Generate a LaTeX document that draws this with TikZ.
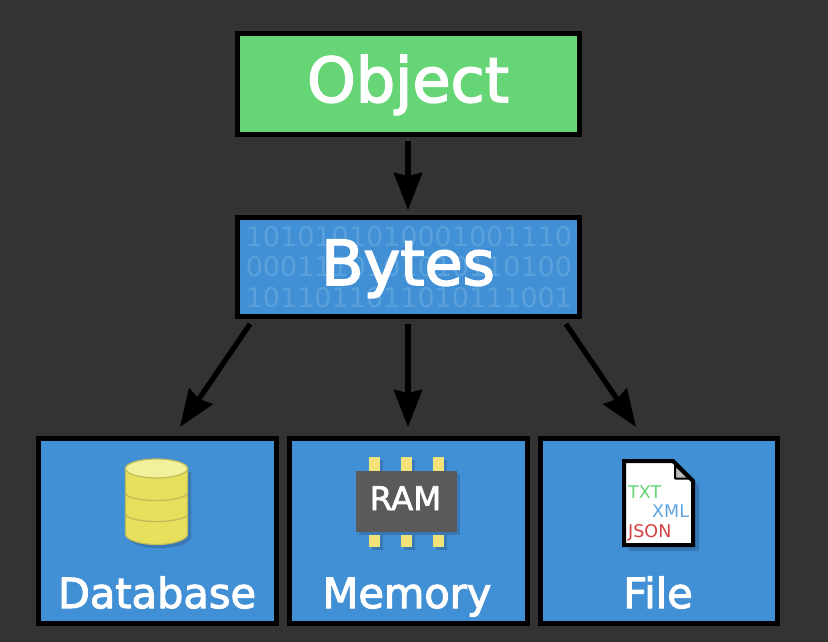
\documentclass[tikz,border=0pt]{standalone}
\usepackage{fontspec}
\setmainfont{DejaVu Sans}
\usetikzlibrary{arrows.meta,calc}
\definecolor{bgc}{HTML}{333333}
\definecolor{greenc}{HTML}{66D575}
\definecolor{bluec}{HTML}{418FD5}
\definecolor{digitc}{HTML}{5AA1DC}
\definecolor{shadowc}{HTML}{3878B4}
\definecolor{dbbody}{HTML}{E6E05C}
\definecolor{dbtop}{HTML}{F2F09B}
\definecolor{dbline}{HTML}{C0BC5C}
\definecolor{chipc}{HTML}{5A5A5A}
\definecolor{pinc}{HTML}{F2E27A}
\definecolor{foldc}{HTML}{BBBBBB}
\definecolor{txtc}{HTML}{66D575}
\definecolor{xmlc}{HTML}{5DA5E0}
\definecolor{jsonc}{HTML}{D64040}
\newcommand\rimtext[3]{\special{pdf:code #1 RG #2 w 2 Tr}#3\special{pdf:code 0 Tr 1 w}}
\tikzset{
  box/.style={draw=black,line width=5pt,outer sep=0pt,inner sep=0pt,rectangle},
  big/.style={anchor=base,inner sep=0pt,text=white,font=\fontsize{62}{62}\selectfont},
  mid/.style={anchor=base,inner sep=0pt,text=white,font=\fontsize{41.5}{42}\selectfont},
  bits/.style={inner sep=0pt,text=digitc,font=\fontsize{27}{27}\selectfont},
  tag/.style={anchor=west,inner sep=0pt,font=\fontsize{17.5}{18}\selectfont},
  link/.style={draw=black,line width=5.2pt,-{Stealth[length=37pt,width=28pt,inset=3pt]}},
}
\begin{document}
\begin{tikzpicture}[x=1pt,y=-1pt]
\useasboundingbox (0,0) rectangle (828,642);
\fill[bgc] (0,0) rectangle (828,642);
% boxes
\node[box,fill=greenc,minimum width=342pt,minimum height=100pt] (obj) at (408,84) {};
\node[box,fill=bluec,minimum width=342pt,minimum height=99pt] (bytes) at (408,266.5) {};
\node[box,fill=bluec,minimum width=238pt,minimum height=185pt] (db) at (157,530.5) {};
\node[box,fill=bluec,minimum width=238pt,minimum height=185pt] (mem) at (408,530.5) {};
\node[box,fill=bluec,minimum width=237pt,minimum height=185pt] (file) at (658.5,530.5) {};
% binary background
\node[bits] (b1) at (409,237) {1010101010001001110};
\node[bits] (b2) at (409,267) {0001110101010110100};
\node[bits] (b3) at (409,298) {1011011011010111001};
% labels
\node[big] (objl) at (408,102) {\rimtext{1 1 1}{1.6}{Object}};
\node[big] (bytesl) at (408,285) {\rimtext{1 1 1}{1.6}{Bytes}};
\node[mid] (dbl) at (157,608) {\rimtext{1 1 1}{1.1}{Database}};
\node[mid] (meml) at (407,608) {\rimtext{1 1 1}{1.1}{Memory}};
\node[mid] (filel) at (658,608) {\rimtext{1 1 1}{1.1}{File}};
% connectors
\draw[link,shorten <=7pt,shorten >=7pt] (obj.south) -- (bytes.north);
\draw[link,shorten <=8pt,shorten >=11pt] (bytes.south) -- (mem.north);
\draw[link,shorten <=9.7pt,shorten >=13.3pt] ($(bytes.south west)+(18.5,0)$) -- ($(db.north)+(15.4,0)$);
\draw[link,shorten <=9.7pt,shorten >=13.3pt] ($(bytes.south east)+(-18.5,0)$) -- ($(file.north)+(-15,0)$);
% database icon
\fill[shadowc] (128,472) -- (191,472) -- (191,537) arc[start angle=0,end angle=180,x radius=31.5,y radius=11] -- cycle;
\filldraw[fill=dbbody,draw=dbline,line width=1.2pt] (125.5,468) -- (125.5,534) arc[start angle=180,end angle=0,x radius=31,y radius=10.5] -- (187.5,468) -- cycle;
\draw[dbline,line width=1.3pt] (125.5,493) arc[start angle=180,end angle=0,x radius=31,y radius=7.5];
\draw[dbline,line width=1.3pt] (125.5,514) arc[start angle=180,end angle=0,x radius=31,y radius=7.5];
\filldraw[fill=dbtop,draw=dbline,line width=1.2pt] (156.5,468.5) ellipse[x radius=31,y radius=9.5];
% ram icon
\foreach \px in {369,401,433}{
  \fill[shadowc] (\px+3,460) rectangle (\px+14,474);
  \fill[shadowc] (\px+3,535) rectangle (\px+14,550);
  \fill[pinc] (\px,457) rectangle (\px+11,471);
  \fill[pinc] (\px,532) rectangle (\px+11,547);
}
\fill[shadowc] (359,474) rectangle (460,535);
\node[fill=chipc,minimum width=101pt,minimum height=61pt,inner sep=0pt,outer sep=0pt] (chip) at (406.5,501.5) {};
\node[anchor=base,inner sep=0pt,text=white,font=\fontsize{32.5}{33}\selectfont] (raml) at (405.5,510) {\rimtext{1 1 1}{0.7}{RAM}};
% file icon
\fill[shadowc] (629,466) -- (680,466) -- (699,486) -- (699,551) -- (629,551) -- cycle;
\filldraw[fill=white,draw=black,line width=4pt,line join=miter] (624,461) -- (673,461) -- (693,481) -- (693,545) -- (624,545) -- cycle;
\filldraw[fill=foldc,draw=black,line width=2pt,line join=round] (675,465) -- (675,478.5) -- (689,478.5) -- cycle;
\node[tag,text=txtc] (txt) at (628,492) {TXT};
\node[tag,text=xmlc] (xml) at (652,511) {XML};
\node[tag,text=jsonc] (json) at (628,533) {JSON};
\end{tikzpicture}
\end{document}
